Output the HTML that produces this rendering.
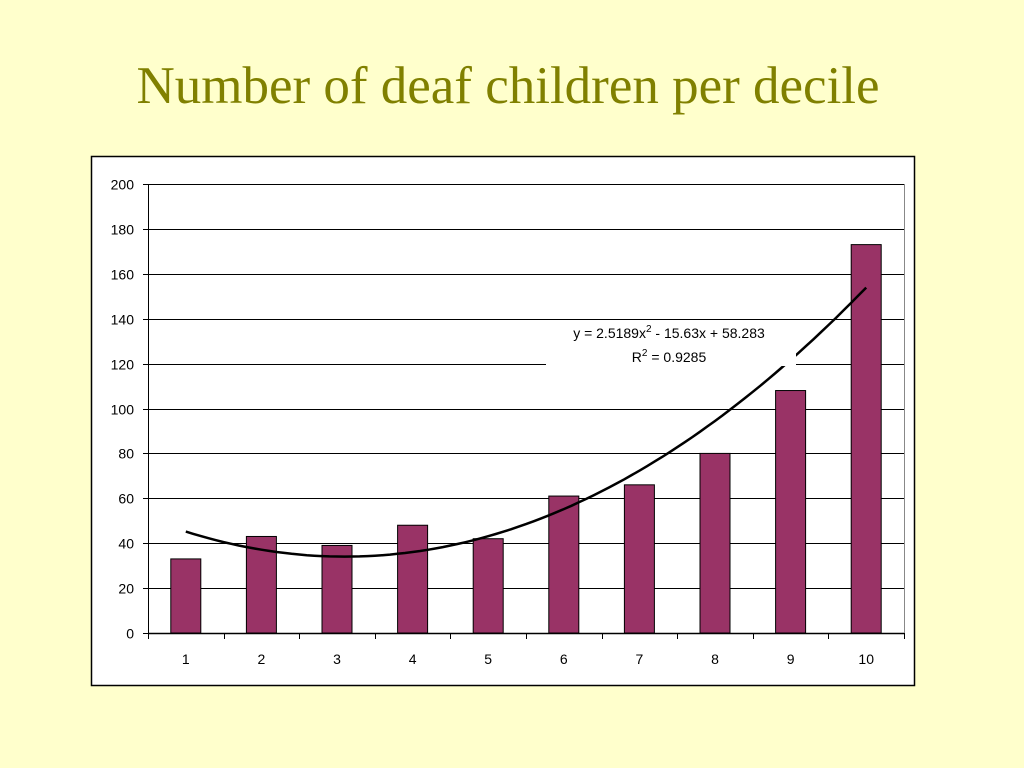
<!DOCTYPE html>
<html><head><meta charset="utf-8"><style>
body{margin:0;width:1024px;height:768px;background:#FFFFCC;overflow:hidden}
#title{position:absolute;left:0;width:1016px;top:56px;text-align:center;font-family:"Liberation Serif",serif;font-size:53px;color:#808000;margin:0;font-weight:normal}
svg{position:absolute;left:0;top:0}
text{font-family:"Liberation Sans",sans-serif;font-size:14px;fill:#000}
</style></head><body>
<h1 id="title">Number of deaf children per decile</h1>
<svg id="chart" width="1024" height="768"></svg>
<script>
const categories=["1","2","3","4","5","6","7","8","9","10"];
const values=[33,43,39,48,42,61,66,80,108,173];
const yTicks=[0,20,40,60,80,100,120,140,160,180,200];
const trendCoef=[2.5189,-15.63,58.283];
const NS="http://www.w3.org/2000/svg";
const svg=document.getElementById('chart');
const L=148,R=904,T=184,B=633,yMax=200;
const cw=(R-L)/categories.length;
const yS=v=>B-v/yMax*(B-T);
const xC=i=>L+cw*(i+0.5);
function mk(t,a,p){const e=document.createElementNS(NS,t);for(const k in a)e.setAttribute(k,a[k]);(p||svg).appendChild(e);return e;}
let fr=mk('rect',{x:91.5,y:156.5,width:823,height:529,fill:'#fff',stroke:'#000','stroke-width':1.5});


yTicks.forEach(v=>{
 const y=Math.round(yS(v))+0.5;
 let g=mk('line',{x1:L,x2:R,y1:y,y2:y,stroke:'#000','stroke-width':1});
 
 
 mk('line',{x1:L-5,x2:L,y1:y,y2:y,stroke:'#000'});
 let t=mk('text',{x:L-14,y:y+5,'text-anchor':'end'});t.textContent=v;
 
 
});
mk('line',{x1:L+0.5,x2:L+0.5,y1:T,y2:B,stroke:'#000'});
mk('line',{x1:R+0.5,x2:R+0.5,y1:T,y2:B,stroke:'#888'});
categories.forEach((c,i)=>{
 const x=Math.round(L+cw*i)+0.5;
 mk('line',{x1:x,x2:x,y1:B,y2:B+6,stroke:'#000'});
 const bw=30,v=values[i];
 let b=mk('rect',{x:xC(i)-bw/2,y:yS(v),width:bw,height:B-yS(v),fill:'#993366',stroke:'#000','stroke-width':1});
 
 
 let t=mk('text',{x:xC(i),y:664,'text-anchor':'middle'});t.textContent=c;
 
 
});
mk('line',{x1:R+0.5,x2:R+0.5,y1:B,y2:B+6,stroke:'#000'});
let ax=mk('line',{x1:L,x2:R,y1:B+0.5,y2:B+0.5,stroke:'#000','stroke-width':1.5});


let pts=[];
for(let k=0;k<=90;k++){const x=1+k*0.1;const v=trendCoef[0]*x*x+trendCoef[1]*x+trendCoef[2];pts.push((xC(x-1)).toFixed(1)+','+yS(v).toFixed(1));}
let tl=mk('polyline',{points:pts.join(' '),fill:'none',stroke:'#000','stroke-width':2.5});


let bg=mk('rect',{x:546,y:320,width:250,height:46,fill:'#fff'});
let eq=mk('text',{x:669,y:338,'text-anchor':'middle'});
eq.innerHTML='y = 2.5189x<tspan dy="-6" font-size="10">2</tspan><tspan dy="6"> - 15.63x + 58.283</tspan>';


let r2=mk('text',{x:669,y:362,'text-anchor':'middle'});
r2.innerHTML='R<tspan dy="-6" font-size="10">2</tspan><tspan dy="6"> = 0.9285</tspan>';


</script>
</body></html>
